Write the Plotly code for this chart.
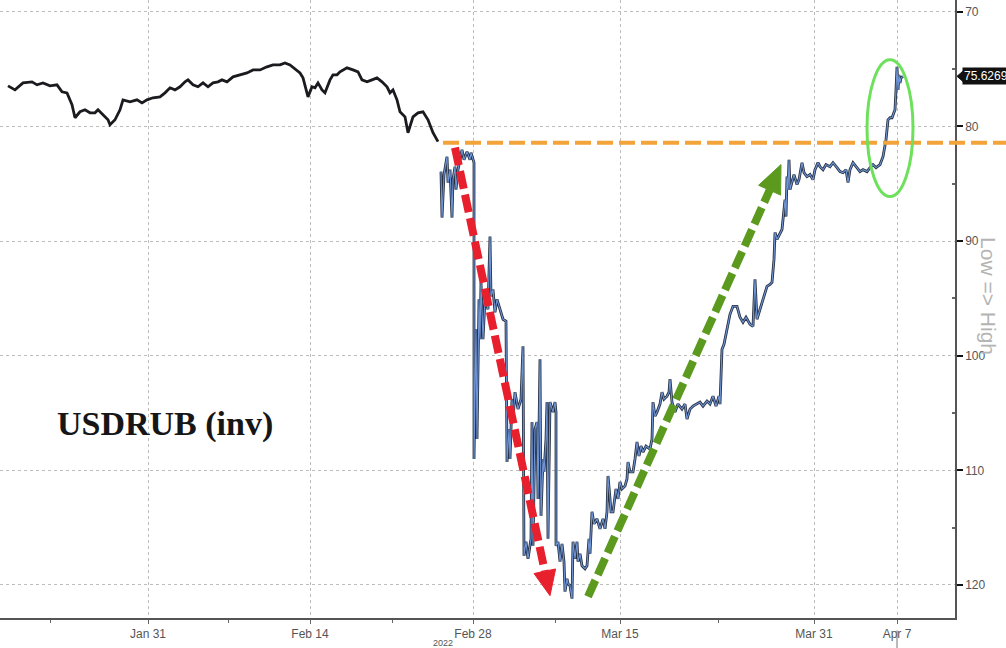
import plotly.graph_objects as go

# ---- data (bar index along the session axis, USDRUB level) ----
bar_pre = [8, 10, 15, 23, 32, 37, 43, 50, 57, 62, 67, 72, 75, 80, 85, 90, 95, 98, 103, 108,
           110, 115, 120, 123, 130, 137, 142, 147, 153, 160, 165, 170, 175, 180, 185, 188, 193, 198, 203, 208,
           213, 218, 222, 227, 233, 240, 247, 253, 260, 267, 273, 280, 285, 290, 297, 300, 303, 307, 308, 312,
           315, 318, 322, 325, 330, 333, 337, 340, 347, 353, 358, 362, 367, 372, 377, 382, 387, 390, 393, 397,
           400, 405, 408, 413, 418, 423, 428, 433, 438]
rub_pre = [76.46, 76.54, 76.81, 76.20, 76.11, 76.37, 76.20, 76.46, 76.37, 76.98, 77.07, 78.11, 79.24, 78.72, 78.55, 78.81, 78.81, 78.55, 78.98, 79.42,
           79.85, 79.42, 78.55, 77.68, 77.85, 77.68, 77.94, 77.68, 77.50, 77.42, 77.07, 76.63, 76.81, 76.54, 76.11, 75.94, 76.37, 76.54, 76.20, 76.54,
           76.20, 76.11, 75.94, 76.11, 75.67, 75.50, 75.33, 75.07, 75.07, 74.80, 74.63, 74.63, 74.46, 74.63, 75.07, 75.33, 75.76, 77.07, 77.42, 76.54,
           76.63, 76.20, 76.81, 77.07, 75.94, 75.50, 75.50, 75.24, 74.89, 75.07, 75.24, 75.94, 76.11, 75.94, 75.76, 76.11, 76.54, 77.07, 76.81, 77.68,
           78.72, 79.16, 80.55, 79.16, 78.81, 78.72, 79.42, 80.55, 81.33]

bar_post = [441, 442, 444, 447, 448, 450, 452, 453, 455, 456, 458, 460, 462, 464, 467, 470, 471, 474, 474, 476,
            477, 479, 480, 481, 483, 485, 488, 490, 491, 493, 495, 497, 500, 503, 506, 507, 509, 510, 512, 513,
            515, 518, 521, 523, 524, 526, 528, 531, 532, 533, 535, 537, 538, 540, 541, 543, 544, 546, 547, 548,
            550, 553, 555, 556, 556, 558, 560, 562, 564, 565, 567, 568, 570, 572, 573, 575, 577, 578, 580, 582,
            585, 587, 589, 590, 592, 594, 597, 600, 603, 605, 607, 608, 610, 611, 613, 616, 618, 620, 622, 625,
            627, 628, 630, 633, 635, 637, 639, 641, 643, 646, 650, 652, 653, 655, 657, 660, 662, 664, 667, 669,
            670, 672, 675, 678, 682, 685, 687, 690, 693, 696, 700, 703, 707, 710, 713, 716, 719, 720, 722, 724,
            727, 730, 733, 737, 740, 743, 746, 750, 753, 755, 757, 760, 764, 767, 770, 772, 774, 775, 777, 780,
            782, 784, 785, 786, 787, 788, 789, 790, 792, 794, 797, 799, 802, 804, 807, 810, 813, 815, 818, 820,
            823, 826, 830, 833, 837, 840, 843, 846, 848, 850, 853, 856, 860, 863, 867, 870, 873, 876, 880, 883,
            885, 886, 888, 890, 892, 894, 895, 896, 897, 898, 899, 900, 901, 903]
rub_post = [83.94, 87.95, 84.20, 82.64, 84.90, 83.77, 87.95, 84.64, 83.51, 85.51, 83.77, 82.90, 82.03, 82.90, 82.20, 82.90, 82.29, 83.16, 109.01, 97.69,
            107.27, 95.08, 98.56, 93.60, 98.56, 95.08, 95.95, 89.60, 94.82, 94.21, 96.21, 95.08, 95.95, 96.82, 97.00, 109.27, 106.40, 109.01, 103.79, 105.53,
            103.18, 104.66, 103.79, 99.17, 117.45, 116.23, 117.71, 115.97, 105.79, 116.58, 106.40, 105.79, 112.49, 100.30, 113.97, 109.01, 110.14, 107.27, 104.05, 115.97,
            104.05, 104.92, 104.05, 104.92, 116.58, 116.23, 117.97, 116.41, 117.97, 120.58, 119.45, 119.89, 120.06, 121.19, 116.23, 117.71, 116.23, 117.97, 117.28, 118.32,
            118.58, 118.32, 115.97, 117.28, 113.62, 114.67, 114.23, 115.10, 114.23, 115.10, 113.62, 110.49, 112.49, 113.62, 113.62, 111.62, 112.49, 111.01, 111.62, 111.36,
            110.75, 109.27, 110.14, 110.14, 109.01, 107.53, 108.75, 107.88, 108.40, 107.88, 108.14, 107.27, 104.05, 105.27, 104.92, 104.22, 103.18, 103.79, 103.53, 103.18,
            102.05, 104.05, 104.92, 104.22, 104.66, 104.22, 105.53, 104.66, 104.40, 104.22, 104.05, 104.40, 103.96, 104.22, 103.53, 104.40, 103.53, 104.22, 99.43, 99.00,
            97.69, 96.39, 95.69, 95.69, 96.65, 97.08, 96.65, 97.26, 97.43, 93.34, 96.82, 95.95, 94.82, 93.95, 93.78, 93.60, 91.60, 89.25, 89.86, 89.25,
            88.99, 87.25, 86.38, 87.86, 84.38, 85.51, 82.90, 85.51, 84.90, 84.20, 85.07, 84.64, 83.16, 84.03, 84.38, 84.20, 84.64, 83.77, 83.16, 83.51,
            83.77, 83.33, 83.51, 83.16, 83.59, 83.94, 84.03, 83.77, 84.90, 83.77, 83.16, 83.51, 83.94, 83.77, 83.94, 83.59, 83.33, 83.59, 83.33, 82.64,
            81.77, 81.16, 79.42, 79.24, 79.24, 78.72, 78.55, 76.81, 74.80, 76.81, 75.50, 76.20, 75.76, 75.63]

tick_bars = [148, 310, 473, 620, 814, 897]
tick_labels = ["Jan 31", "Feb 14", "Feb 28", "Mar 15", "Mar 31", "Apr 7"]
minor_bars = [50, 228, 392, 555, 718]
y_ticks = [70, 80, 90, 100, 110, 120]
y_minor = [75, 85, 95, 105, 115]
last_value = 75.6269
breakout_level = 81.42

X_MAX = 955
fig = go.Figure()
fig.add_trace(go.Scatter(x=bar_pre, y=rub_pre, mode="lines",
                         line=dict(color="#1b1b1f", width=2.8), hoverinfo="skip"))
fig.add_trace(go.Scatter(x=bar_post, y=rub_post, mode="lines",
                         line=dict(color="#263042", width=2.8), hoverinfo="skip"))
fig.add_trace(go.Scatter(x=bar_post, y=rub_post, mode="lines",
                         line=dict(color="#6f95d6", width=1.1), hoverinfo="skip"))

def px2p(px):
    return px / X_MAX

shapes = []
# orange breakout line
shapes.append(dict(type="line", xref="paper", yref="y", x0=px2p(443), x1=1.06,
                   y0=breakout_level, y1=breakout_level,
                   line=dict(color="#f2a33a", width=4, dash="16px,6px")))
# red arrow
shapes.append(dict(type="line", xref="x", yref="y", x0=455, y0=81.85, x1=544.8, y1=118.80,
                   line=dict(color="#e8202e", width=8, dash="18px,6px")))
shapes.append(dict(type="path", xref="x", yref="y",
                   path="M 550,120.93 L 555.6,118.60 L 534.0,119.00 Z",
                   fillcolor="#e8202e", line=dict(color="#e8202e", width=1)))
# green arrow
shapes.append(dict(type="line", xref="x", yref="y", x0=588, y0=121.02, x1=769.6, y1=85.56,
                   line=dict(color="#5b9a1e", width=8, dash="18px,6px")))
shapes.append(dict(type="path", xref="x", yref="y",
                   path="M 781,83.33 L 780.6,85.99 L 758.6,85.13 Z",
                   fillcolor="#5b9a1e", line=dict(color="#5b9a1e", width=1)))
# green ellipse
shapes.append(dict(type="circle", xref="x", yref="y", x0=867, x1=913, y0=74.19, y1=86.12,
                   line=dict(color="#6ee05c", width=3)))
# last-price marker pointer
shapes.append(dict(type="path", xref="paper", yref="y",
                   path=f"M {px2p(957)},{last_value} L {px2p(963)},{last_value-0.45} L {px2p(963)},{last_value+0.45} Z",
                   fillcolor="#111111", line=dict(color="#111111", width=1)))
# small marker under Apr 7
shapes.append(dict(type="line", xref="paper", yref="paper", x0=px2p(897), x1=px2p(897),
                   y0=-0.02, y1=-0.05, line=dict(color="#777", width=1)))

annotations = [
    dict(text="<b>USDRUB (inv)</b>", xref="paper", yref="y", x=px2p(55), y=105.96,
         xanchor="left", yanchor="middle", showarrow=False,
         font=dict(family="Liberation Sans", size=34, color="#161616") | {"family": "Liberation Serif"}),
    dict(text="Low => High", xref="paper", yref="y", x=px2p(989), y=94.8,
         textangle=90, showarrow=False, xanchor="center", yanchor="middle",
         font=dict(family="Liberation Sans", size=21, color="#b4b4b4")),
    dict(text="75.6269", xref="paper", yref="y", x=px2p(962), y=last_value,
         xanchor="left", yanchor="middle", showarrow=False, bgcolor="#111111",
         borderpad=1, font=dict(family="Liberation Sans", size=12, color="#ffffff")),
    dict(text="2022", xref="paper", yref="paper", x=px2p(443), y=-0.04,
         xanchor="center", yanchor="middle", showarrow=False,
         font=dict(family="Liberation Sans", size=9, color="#555")),
]

fig.update_layout(
    width=1006, height=648,
    margin=dict(l=0, r=51, t=0, b=30),
    paper_bgcolor="white", plot_bgcolor="white",
    showlegend=False,
    shapes=shapes, annotations=annotations,
    xaxis=dict(range=[0, X_MAX], tickmode="array", tickvals=tick_bars, ticktext=tick_labels,
               showgrid=True, gridcolor="#bdbdbd", griddash="dot", gridwidth=1,
               zeroline=False, showline=True, linecolor="#555", linewidth=1.5,
               ticks="outside", ticklen=4, tickcolor="#666",
               tickfont=dict(family="Liberation Sans", size=12, color="#555"),
               minor=dict(tickmode="array", tickvals=minor_bars, ticks="outside", ticklen=3,
                          tickcolor="#666", showgrid=False)),
    yaxis=dict(range=[122.88, 68.97], side="right", tickmode="array", tickvals=y_ticks,
               showgrid=True, gridcolor="#bdbdbd", griddash="dot", gridwidth=1,
               zeroline=False, showline=True, linecolor="#555", linewidth=1.5,
               ticks="outside", ticklen=6, tickwidth=2, tickcolor="#111",
               tickfont=dict(family="Liberation Sans", size=12, color="#555"),
               minor=dict(tickmode="array", tickvals=y_minor, ticks="inside", ticklen=3,
                          tickcolor="#666", showgrid=False)),
)

fig.write_html("out.html", config={"displayModeBar": False},
               post_script="document.body.style.margin='0';document.body.style.overflow='hidden';")
